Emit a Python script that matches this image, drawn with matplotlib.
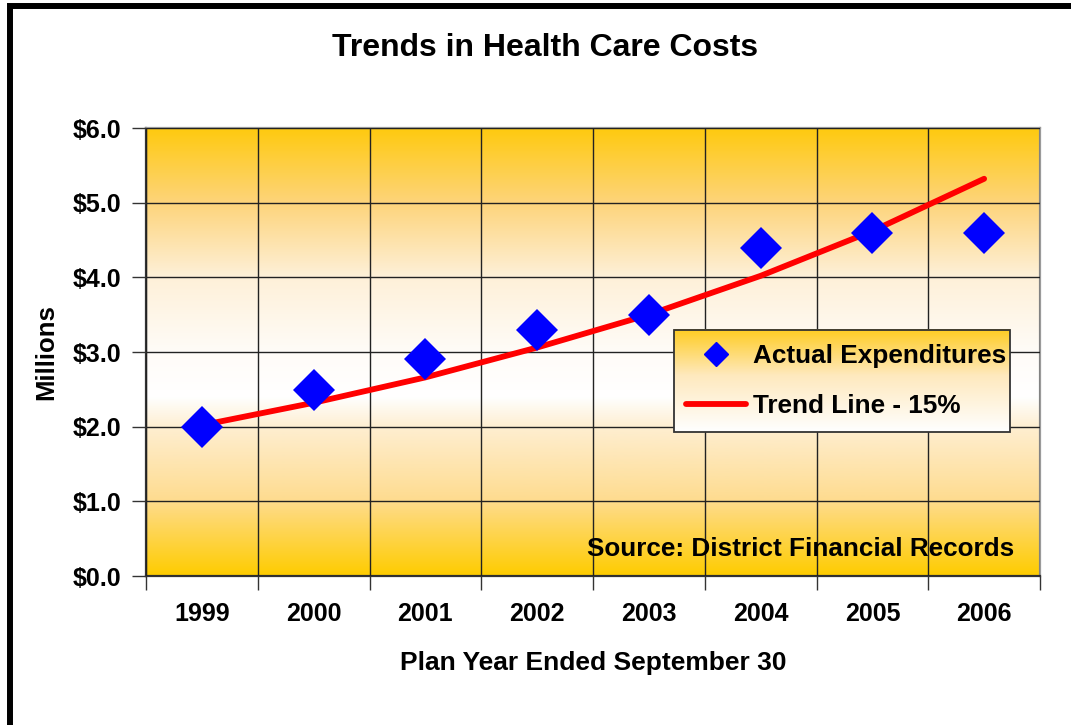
import numpy as np
import matplotlib
matplotlib.use("Agg")
import matplotlib.pyplot as plt
from matplotlib.colors import LinearSegmentedColormap
from matplotlib.lines import Line2D
from matplotlib.patches import Rectangle

plt.rcParams['font.family'] = ['Liberation Sans', 'DejaVu Sans']
plt.rcParams['font.weight'] = 'bold'

# data
years = ['1999', '2000', '2001', '2002', '2003', '2004', '2005', '2006']
actual = [2.0, 2.49, 2.9, 3.29, 3.5, 4.39, 4.6, 4.6]
trend = [2.02, 2.32, 2.66, 3.06, 3.50, 4.02, 4.62, 5.32]
y_ticks = [0, 1, 2, 3, 4, 5, 6]
y_labels = ['$0.0', '$1.0', '$2.0', '$3.0', '$4.0', '$5.0', '$6.0']

fig = plt.figure(figsize=(10.71, 7.25), dpi=100)
ax = fig.add_axes([146 / 1071, 1 - 576 / 725, 894 / 1071, 448 / 725])

# plot area background: gold -> white -> gold (top to bottom)
bg = LinearSegmentedColormap.from_list('bg', [
    (0.0, '#FFCA10'), (0.165, '#FDD47A'), (0.33, '#FEF0D8'),
    (0.5, '#FFFCF8'), (0.6, '#FFFFFF'), (0.67, '#FEEED0'),
    (0.83, '#FEDC90'), (1.0, '#FFCC00')])
grad = np.linspace(0, 1, 256).reshape(-1, 1)
ax.imshow(grad, cmap=bg, aspect='auto', extent=[0, 1, 0, 1],
          transform=ax.transAxes, zorder=0)

x = np.arange(len(years))
ax.set_xlim(-0.5, len(years) - 0.5)
ax.set_ylim(0, 6)

ax.set_xticks(np.arange(-0.5, len(years), 1.0))
ax.set_xticklabels([])
ax.set_xticks(x, minor=True)
ax.set_xticklabels(years, minor=True, fontsize=18, fontweight='bold')
ax.tick_params(axis='x', which='major', direction='out', length=10, width=1, color='#333333')
ax.tick_params(axis='x', which='minor', length=0, pad=19)
ax.set_yticks(y_ticks)
ax.set_yticklabels(y_labels, fontsize=18, fontweight='bold')
ax.tick_params(axis='y', direction='out', length=10, width=1, color='#333333', pad=8)

ax.grid(True, which='major', color='#222222', linewidth=1, zorder=1)
ax.set_axisbelow(False)
for gl in ax.get_xgridlines() + ax.get_ygridlines():
    gl.set_zorder(1)

for side in ['left', 'bottom']:
    ax.spines[side].set_color('#333333')
    ax.spines[side].set_linewidth(1.6)
for side in ['top', 'right']:
    ax.spines[side].set_color('#9a9a9a')
    ax.spines[side].set_linewidth(1.6)

ax.plot(x, trend, color='#FF0000', linewidth=4.2, solid_capstyle='round', zorder=3)
ax.plot(x, actual, linestyle='none', marker='D', markersize=21,
        color='#0000FF', markeredgewidth=0, zorder=4)

ax.set_xlabel('Plan Year Ended September 30', fontsize=19, fontweight='bold', labelpad=18)
ax.set_ylabel('Millions', fontsize=18.5, fontweight='bold', labelpad=10)
fig.text(0.509, 0.934, 'Trends in Health Care Costs', fontsize=23,
         fontweight='bold', ha='center', va='center')

ax.text(0.971, 0.06, 'Source: District Financial Records', transform=ax.transAxes,
        fontsize=18.8, fontweight='bold', ha='right', va='center', zorder=5)

# legend box with its own gradient
lx0, lx1 = (674 - 146) / 894, (1010 - 146) / 894
ly0, ly1 = (576 - 432) / 448, (576 - 330) / 448
lg = LinearSegmentedColormap.from_list('lg', [(0.0, '#FFCC22'), (0.45, '#FEE9BE'), (1.0, '#FFFFFF')])
ax.imshow(grad, cmap=lg, aspect='auto', extent=[lx0, lx1, ly0, ly1],
          transform=ax.transAxes, zorder=6)
ax.add_patch(Rectangle((lx0, ly0), lx1 - lx0, ly1 - ly0, transform=ax.transAxes,
                       fill=False, edgecolor='#333333', linewidth=1.3, zorder=7))
handles = [Line2D([], [], linestyle='none', marker='D', markersize=12, color='#0000FF'),
           Line2D([], [], color='#FF0000', linewidth=4.2, solid_capstyle='round')]
leg = ax.legend(handles, ['Actual Expenditures', 'Trend Line - 15%'],
                loc='center left', bbox_to_anchor=((686 - 146) / 894, (ly0 + ly1) / 2),
                frameon=False, handlelength=2.3, handletextpad=0.25,
                labelspacing=1.0, borderpad=0, borderaxespad=0,
                prop={'weight': 'bold', 'size': 18.8})
leg.set_zorder(8)

ax.set_xlim(-0.5, len(years) - 0.5)
ax.set_ylim(0, 6)

# outer black frame (right and bottom edges fall off the image)
fig.patches.append(Rectangle((10 / 1071, -0.2), 1.5, 1.2 - 6 / 725, transform=fig.transFigure,
                             fill=False, edgecolor='black', linewidth=4.3, clip_on=False))

fig.savefig('out.png', dpi=100)
